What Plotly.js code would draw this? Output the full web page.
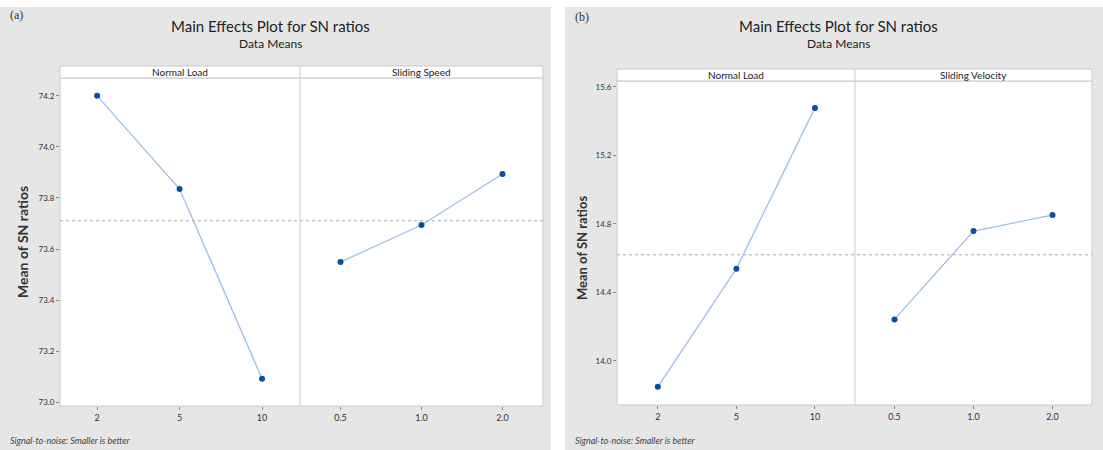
<!DOCTYPE html>
<html>
<head>
<meta charset="utf-8">
<script src="https://cdn.plot.ly/plotly-3.0.1.min.js"></script>
<style>html,body{margin:0;padding:0;background:#fff;}#chart{width:1103px;height:450px;}</style>
</head>
<body>
<div id="chart"></div>
<script>
// ---- data ----
const loadLevels = ["2", "5", "10"];
const speedLevels = ["0.5", "1.0", "2.0"];
const aLoadSN = [74.20, 73.835, 73.092];
const aSpeedSN = [73.549, 73.694, 73.894];
const bLoadSN = [13.849, 14.539, 15.478];
const bVelocitySN = [14.243, 14.759, 14.852];
const aYTicks = [73.0, 73.2, 73.4, 73.6, 73.8, 74.0, 74.2];
const bYTicks = [14.0, 14.4, 14.8, 15.2, 15.6];
const panelTitle = "Main Effects Plot for SN ratios";
const panelSubtitle = "Data Means";
const aFactors = ["Normal Load", "Sliding Speed"];
const bFactors = ["Normal Load", "Sliding Velocity"];
const yLabel = "Mean of SN ratios";
const footnote = "Signal-to-noise: Smaller is better";

const mean = a => a.reduce((s, v) => s + v, 0) / a.length;
const aMean = mean(aLoadSN.concat(aSpeedSN));
const bMean = mean(bLoadSN.concat(bVelocitySN));

const W = 1103, H = 450;
const px = v => v / W, py = v => 1 - v / H;

const lineColor = "#9dbfe6";
const markerColor = "#0b4ea2";
const FONT = "Lato, 'Open Sans', sans-serif";

function tr(x, y, xa, ya) {
  return {x: x, y: y, xaxis: xa, yaxis: ya, type: "scatter", mode: "lines+markers",
    line: {color: lineColor, width: 1.3}, marker: {color: markerColor, size: 6},
    hoverinfo: "skip", showlegend: false};
}

const data = [
  tr(loadLevels, aLoadSN, "x", "y"),
  tr(speedLevels, aSpeedSN, "x2", "y"),
  tr(loadLevels, bLoadSN, "x3", "y2"),
  tr(speedLevels, bVelocitySN, "x4", "y2")
];

const gridCol = "#c9c9c9";
function xax(dom, range, anchor) {
  return {domain: dom, type: "category", range: range, anchor: anchor,
    showgrid: false, zeroline: false, showline: false,
    ticks: "outside", ticklen: 3, tickcolor: "#888", tickwidth: 1,
    tickfont: {family: FONT, size: 9, color: "#333"}, fixedrange: true};
}
function yax(dom, range, tv, anchor) {
  return {domain: dom, range: range, anchor: anchor, tickvals: tv,
    ticktext: tv.map(v => v.toFixed(1)),
    showgrid: false, zeroline: false, showline: false,
    ticks: "outside", ticklen: 3, tickcolor: "#888",
    tickfont: {family: FONT, size: 8, color: "#333"}, fixedrange: true};
}

const aTop = 78, aBot = 406, bTop = 81, bBot = 405;
const aL = 60, aM = 300, aR = 543;
const bL = 617, bM = 855, bR = 1092;

const layout = {
  width: W, height: H,
  margin: {l: 0, r: 0, t: 0, b: 0},
  paper_bgcolor: "#ffffff",
  plot_bgcolor: "#ffffff",
  showlegend: false,
  xaxis: xax([px(aL), px(aM)], [-0.45, 2.46], "y"),
  xaxis2: xax([px(aM), px(aR)], [-0.5, 2.5], "y"),
  xaxis3: xax([px(bL), px(bM)], [-0.52, 2.51], "y2"),
  xaxis4: xax([px(bM), px(bR)], [-0.5, 2.5], "y2"),
  yaxis: yax([py(aBot), py(aTop)], [72.985, 74.27], aYTicks, "x"),
  yaxis2: yax([py(bBot), py(bTop)], [13.743, 15.635], bYTicks, "x3"),
  shapes: [
    {type: "rect", xref: "paper", yref: "paper", x0: 0, x1: px(551), y0: 0, y1: py(7),
      fillcolor: "#e6e6e6", line: {width: 0}, layer: "below"},
    {type: "rect", xref: "paper", yref: "paper", x0: px(565), x1: 1, y0: 0, y1: py(7),
      fillcolor: "#e6e6e6", line: {width: 0}, layer: "below"},
    {type: "rect", xref: "paper", yref: "paper", x0: px(aL), x1: px(aR), y0: py(aBot), y1: py(aTop),
      fillcolor: "#ffffff", line: {color: gridCol, width: 1}, layer: "below"},
    {type: "rect", xref: "paper", yref: "paper", x0: px(bL), x1: px(bR), y0: py(bBot), y1: py(bTop),
      fillcolor: "#ffffff", line: {color: gridCol, width: 1}, layer: "below"},
    {type: "rect", xref: "paper", yref: "paper", x0: px(aL), x1: px(aR), y0: py(aTop), y1: py(66),
      fillcolor: "#ffffff", line: {color: gridCol, width: 1}},
    {type: "rect", xref: "paper", yref: "paper", x0: px(bL), x1: px(bR), y0: py(bTop), y1: py(69),
      fillcolor: "#ffffff", line: {color: gridCol, width: 1}},
    {type: "line", xref: "paper", yref: "paper", x0: px(aM), x1: px(aM), y0: py(aBot), y1: py(66),
      line: {color: gridCol, width: 1}},
    {type: "line", xref: "paper", yref: "paper", x0: px(bM), x1: px(bM), y0: py(bBot), y1: py(69),
      line: {color: gridCol, width: 1}},
    {type: "line", xref: "paper", yref: "y", x0: px(aL), x1: px(aR), y0: aMean, y1: aMean,
      line: {color: "#a8a8a8", width: 1, dash: "dot"}, layer: "below"},
    {type: "line", xref: "paper", yref: "y2", x0: px(bL), x1: px(bR), y0: bMean, y1: bMean,
      line: {color: "#a8a8a8", width: 1, dash: "dot"}, layer: "below"}
  ],
  annotations: []
};

function ann(text, x, y, opts) {
  layout.annotations.push(Object.assign({text: text, xref: "paper", yref: "paper",
    x: px(x), y: py(y), showarrow: false, xanchor: "center", yanchor: "middle",
    font: {family: FONT, size: 10, color: "#222"}}, opts || {}));
}

// panel (a)
ann("(a)", 8, 15, {xanchor: "left", font: {family: "'Liberation Serif', serif", size: 12, color: "#333"}});
ann(panelTitle, 270, 26, {font: {family: FONT, size: 15, color: "#222"}});
ann(panelSubtitle, 270, 44, {font: {family: FONT, size: 12, color: "#222"}});
ann(aFactors[0], (aL + aM) / 2, 72, {font: {family: FONT, size: 10, color: "#222"}});
ann(aFactors[1], (aM + aR) / 2, 72, {font: {family: FONT, size: 10, color: "#222"}});
ann(yLabel, 22, 242, {textangle: -90, font: {family: FONT, size: 14, color: "#333", weight: 700}});
ann(footnote, 8, 440, {xanchor: "left", font: {family: FONT, size: 9, color: "#444", style: "italic"}});

// panel (b)
ann("(b)", 573, 17, {xanchor: "left", font: {family: "'Liberation Serif', serif", size: 12, color: "#333"}});
ann(panelTitle, 838, 26, {font: {family: FONT, size: 15, color: "#222"}});
ann(panelSubtitle, 838, 44, {font: {family: FONT, size: 12, color: "#222"}});
ann(bFactors[0], (bL + bM) / 2, 75, {font: {family: FONT, size: 10, color: "#222"}});
ann(bFactors[1], (bM + bR) / 2, 75, {font: {family: FONT, size: 10, color: "#222"}});
ann(yLabel, 582, 248, {textangle: -90, font: {family: FONT, size: 13, color: "#333", weight: 700}});
ann(footnote, 573, 440, {xanchor: "left", font: {family: FONT, size: 9, color: "#444", style: "italic"}});

Plotly.newPlot("chart", data, layout, {displayModeBar: false, staticPlot: true});
</script>
</body>
</html>
